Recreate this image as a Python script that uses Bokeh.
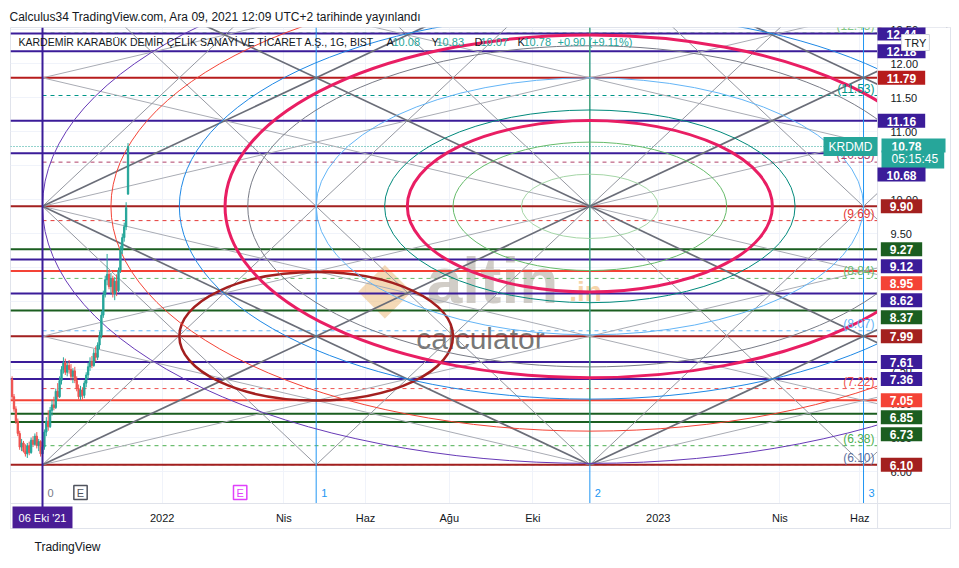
from bokeh.plotting import figure
from bokeh.models import Range1d, Label, Title, FixedTicker, NumeralTickFormatter
from bokeh.embed import file_html
from bokeh.resources import INLINE

FONT = "Liberation Sans"

# ---------------- data ----------------
CANDLE_BARS = list(range(-16, 46))  # bar index, 0 = 06 Eki '21
OPEN = [7.36, 7.10, 6.92, 6.74, 6.56, 6.36, 6.42, 6.30, 6.26, 6.38, 6.28, 6.46, 6.40, 6.52, 6.38, 6.44,
        6.26, 6.36, 6.58, 6.74, 6.66, 6.90, 6.98, 6.94, 7.18, 7.10, 7.34, 7.50, 7.60, 7.46, 7.56, 7.50,
        7.40, 7.48, 7.34, 7.22, 7.10, 7.20, 7.12, 7.30, 7.42, 7.54, 7.62, 7.56, 7.74, 7.68, 7.86, 8.00,
        8.30, 8.60, 8.82, 8.90, 8.72, 8.84, 8.62, 8.80, 8.66, 8.96, 9.26, 9.44, 9.60, 10.08]
HIGH = [7.40, 7.14, 6.96, 6.78, 6.60, 6.48, 6.45, 6.40, 6.42, 6.44, 6.50, 6.52, 6.56, 6.58, 6.48, 6.46,
        6.42, 6.62, 6.80, 6.90, 6.95, 7.05, 7.10, 7.22, 7.30, 7.40, 7.55, 7.68, 7.66, 7.62, 7.64, 7.58,
        7.52, 7.54, 7.40, 7.28, 7.26, 7.24, 7.34, 7.46, 7.60, 7.68, 7.70, 7.80, 7.84, 7.90, 8.06, 8.36,
        8.66, 8.88, 9.20, 8.96, 8.92, 8.88, 8.86, 8.90, 9.00, 9.32, 9.50, 9.66, 9.96, 10.83]
LOW = [7.06, 6.88, 6.70, 6.52, 6.32, 6.30, 6.28, 6.22, 6.20, 6.24, 6.26, 6.36, 6.38, 6.34, 6.30, 6.22,
       6.10, 6.32, 6.52, 6.60, 6.64, 6.82, 6.90, 6.92, 7.05, 7.08, 7.28, 7.44, 7.42, 7.40, 7.44, 7.34,
       7.30, 7.30, 7.18, 7.06, 7.05, 7.06, 7.08, 7.24, 7.36, 7.48, 7.52, 7.54, 7.62, 7.64, 7.80, 7.96,
       8.26, 8.56, 8.74, 8.68, 8.60, 8.56, 8.52, 8.58, 8.64, 8.92, 9.20, 9.38, 9.55, 10.07]
CLOSE = [7.10, 6.92, 6.74, 6.56, 6.36, 6.42, 6.30, 6.26, 6.38, 6.28, 6.46, 6.40, 6.52, 6.38, 6.44, 6.26,
         6.36, 6.58, 6.74, 6.66, 6.90, 6.98, 6.94, 7.18, 7.10, 7.34, 7.50, 7.60, 7.46, 7.56, 7.50, 7.40,
         7.48, 7.34, 7.22, 7.10, 7.20, 7.12, 7.30, 7.42, 7.54, 7.62, 7.56, 7.74, 7.68, 7.86, 8.00, 8.30,
         8.60, 8.82, 8.90, 8.72, 8.84, 8.62, 8.80, 8.66, 8.96, 9.26, 9.44, 9.60, 9.88, 10.78]

TIME_TICKS = [63, 127, 170, 214, 258, 324, 388, 430]
TIME_LABELS = ["2022", "Nis", "Haz", "Ağu", "Eki", "2023", "Nis", "Haz"]
ANCHOR_LABEL = "06 Eki '21"
PRICE_TICKS = [6.0, 6.5, 7.0, 7.5, 8.0, 8.5, 9.0, 9.5, 10.0, 10.5, 11.0, 11.5, 12.0, 12.5]

LEVELS = [12.44, 12.18, 11.79, 11.16, 10.68, 9.90, 9.27, 9.12, 8.95, 8.62, 8.37, 7.99,
          7.61, 7.36, 7.05, 6.85, 6.73, 6.10]
LEVEL_COLORS = ["#3b1c99", "#3b1c99", "#b71c1c", "#3b1c99", "#3b1c99", "#a3201f", "#1b5e20", "#3b1c99",
                "#f44336", "#3b1c99", "#1b5e20", "#a3201f", "#3b1c99", "#3b1c99", "#f44336", "#1b5e20",
                "#1b5e20", "#a3201f"]

FIB_LEVELS = [12.45, 11.53, 10.55, 9.69, 8.84, 8.07, 7.22, 6.38, 6.10]
FIB_COLORS = ["#81c784", "#009688", "#b0406a", "#e53935", "#66bb6a", "#64b5f6", "#ef5350", "#4caf50", "#5b6f9e"]

LAST_PRICE = 10.78
LAST_TIMER = "05:15:45"
SYMBOL = "KRDMD"
CURRENCY = "TRY"
NAME = "KARDEMİR KARABÜK DEMİR ÇELİK SANAYİ VE TİCARET A.Ş., 1G, BIST"
HEADER = "Calculus34 TradingView.com, Ara 09, 2021 12:09 UTC+2 tarihinde yayınlandı"

GANN_BARS = [0, 144, 288, 432, 576, 720]
GANN_LEVELS = [6.10, 7.99, 9.90, 11.79, 13.68]
CYCLE_LABELS = ["0", "1", "2", "3"]
CYCLE_COLORS = ["#787b86", "#2196f3", "#2196f3", "#2196f3"]

ARC_RATIOS = [0.25, 0.5, 0.667, 0.75, 1.0, 1.25, 1.333, 1.5, 1.75, 2.0]
ARC_COLORS = ["#a5d6a7", "#66bb6a", "#e91e63", "#00897b", "#64b5f6", "#787b86", "#e91e63",
              "#1e88e5", "#f44336", "#673ab7"]
ARC_WIDTHS = [1, 1, 3, 1, 1, 1, 3, 1, 1, 1]
SMALL_ARC_RATIO = 0.5

EARNINGS_BARS = [20, 104]
EARNINGS_COLORS = ["#50535e", "#e040fb"]

# ---------------- view ----------------
PX_PER_BAR = 1.9005
PPU = 68.0                       # px per price unit
X_START, X_END = -16.84, 439.4    # chart pane (bars)
Y_START, Y_END = 5.53, 12.53      # chart pane (price)
FRAME_W, FRAME_H = 940, 501       # pane + price scale + time scale
X_FRAME_END = X_START + FRAME_W / PX_PER_BAR
Y_FRAME_START = Y_END - FRAME_H / PPU

p = figure(frame_width=FRAME_W, frame_height=FRAME_H,
           x_range=Range1d(X_START, X_FRAME_END), y_range=Range1d(Y_FRAME_START, Y_END),
           y_axis_location="right", output_backend="svg", toolbar_location=None,
           min_border_left=10, min_border_right=7, min_border_top=27, min_border_bottom=38,
           background_fill_color="white", border_fill_color="white")
p.outline_line_color = "#e0e3eb"

p.title.text = HEADER
p.title.text_font = FONT
p.title.text_font_size = "12px"
p.title.text_font_style = "normal"
p.title.text_color = "#131722"
p.title.standoff = 7
p.title.offset = -1

p.add_layout(Title(text="TradingView", align="left", text_font=FONT, text_font_size="12px",
                   text_font_style="normal", text_color="#131722", standoff=18, offset=24), "below")

# price scale (labels drawn inside the scale strip)
p.yaxis.ticker = FixedTicker(ticks=PRICE_TICKS)
p.yaxis.formatter = NumeralTickFormatter(format="0.00")
p.yaxis.major_label_text_font = FONT
p.yaxis.major_label_text_font_size = "11px"
p.yaxis.major_label_text_color = "#131722"
p.yaxis.major_tick_line_color = None
p.yaxis.minor_tick_line_color = None
p.yaxis.major_label_standoff = -66
p.yaxis.axis_line_color = "#e0e3eb"

# time scale
p.xaxis.ticker = FixedTicker(ticks=TIME_TICKS)
p.xaxis.major_label_overrides = {t: l for t, l in zip(TIME_TICKS, TIME_LABELS)}
p.xaxis.major_label_text_font = FONT
p.xaxis.major_label_text_font_size = "11px"
p.xaxis.major_label_text_color = "#131722"
p.xaxis.major_tick_line_color = None
p.xaxis.minor_tick_line_color = None
p.xaxis.major_label_standoff = -23
p.xaxis.axis_line_color = "#e0e3eb"

p.xgrid.ticker = FixedTicker(ticks=TIME_TICKS)
p.xgrid.grid_line_color = "#f0f3fa"
p.ygrid.grid_line_color = "#f0f3fa"

# ---------------- watermark ----------------
for txt, x, y, size, color, alpha, style in [
    ("◆", 374, 243, "70px", "#edbf85", 0.6, "normal"),
    ("altin", 482, 248, "64px", "#b3aca2", 0.6, "bold"),
    (".in", 575, 237, "28px", "#f0b970", 0.6, "bold"),
    ("calculator", 470, 190, "30px", "#5f5f5f", 0.85, "normal"),
]:
    p.add_layout(Label(x=x, y=y, x_units="screen", y_units="screen", text=txt, text_align="center",
                       text_baseline="middle", text_font=FONT, text_font_size=size, text_color=color,
                       text_alpha=alpha, text_font_style=style, level="underlay"))

# ---------------- horizontal levels ----------------
for lv, c in zip(FIB_LEVELS, FIB_COLORS):
    p.segment(x0=GANN_BARS[0], y0=lv, x1=X_END, y1=lv, line_color=c, line_width=1, line_dash="4 4")
for lv, c in zip(LEVELS, LEVEL_COLORS):
    p.segment(x0=X_START, y0=lv, x1=X_END, y1=lv, line_color=c, line_width=2)
p.segment(x0=X_START, y0=LAST_PRICE, x1=X_END, y1=LAST_PRICE, line_color="#26a69a", line_width=1,
          line_dash="1 2")

# ---------------- vertical cycle lines ----------------
for b in GANN_BARS[1:4]:
    p.segment(x0=b, y0=Y_START, x1=b, y1=Y_END, line_color="#2196f3", line_width=1)
p.segment(x0=GANN_BARS[2], y0=GANN_LEVELS[0], x1=GANN_BARS[2], y1=Y_END, line_color="#43a047", line_width=1)

# ---------------- gann square lines ----------------
# a: 1x1 diagonals, b: 2x1 fan lines, c: 1x2 fan lines
styles = {"a": ("#6a6d78", 1.7), "b": ("#9598a1", 1.0), "c": ("#a9acb4", 1.0)}
seg = {k: ([], [], [], []) for k in styles}
for ci in range(len(GANN_BARS)):
    for ri in range(len(GANN_LEVELS)):
        moves = []
        if (ci + ri) % 2 == 0:
            moves += [(1, 1, "a"), (1, -1, "a")]
        if ri % 2 == 0:
            moves += [(1, 2, "b"), (1, -2, "b")]
        if ci % 2 == 0:
            moves += [(2, 1, "c"), (2, -1, "c")]
        for dc, dr, st in moves:
            cj, rj = ci + dc, ri + dr
            if cj < len(GANN_BARS) and 0 <= rj < len(GANN_LEVELS):
                s = seg[st]
                s[0].append(GANN_BARS[ci]); s[1].append(GANN_LEVELS[ri])
                s[2].append(GANN_BARS[cj]); s[3].append(GANN_LEVELS[rj])
for st in ["c", "b", "a"]:
    x0, y0, x1, y1 = seg[st]
    p.segment(x0=x0, y0=y0, x1=x1, y1=y1, line_color=styles[st][0], line_width=styles[st][1])

# ---------------- ellipses ----------------
col_w = GANN_BARS[1] - GANN_BARS[0]
row_h = GANN_LEVELS[1] - GANN_LEVELS[0]
p.ellipse(x=GANN_BARS[1], y=GANN_LEVELS[1], width=2 * SMALL_ARC_RATIO * col_w, height=2 * SMALL_ARC_RATIO * row_h,
          fill_alpha=0, line_color="#a31f1f", line_width=2.5)
for k, c, w in zip(ARC_RATIOS, ARC_COLORS, ARC_WIDTHS):
    p.ellipse(x=GANN_BARS[2], y=GANN_LEVELS[2], width=2 * k * col_w, height=2 * k * row_h,
              fill_alpha=0, line_color=c, line_width=w)

# ---------------- candles ----------------
cols = ["#26a69a" if c >= o else "#ef5350" for o, c in zip(OPEN, CLOSE)]
p.segment(x0=CANDLE_BARS, y0=LOW, x1=CANDLE_BARS, y1=HIGH, line_color=cols, line_width=1)
p.vbar(x=CANDLE_BARS, width=0.7, top=[max(o, c) for o, c in zip(OPEN, CLOSE)],
       bottom=[min(o, c) for o, c in zip(OPEN, CLOSE)], fill_color=cols, line_color=cols)

# ---------------- scale strips (cover the drawing outside the pane) ----------------
p.quad(left=X_END, right=X_FRAME_END, bottom=Y_FRAME_START, top=Y_END, fill_color="white", line_color=None)
p.quad(left=X_START, right=X_FRAME_END, bottom=Y_FRAME_START, top=Y_START, fill_color="white", line_color=None)
p.segment(x0=X_END, y0=Y_FRAME_START, x1=X_END, y1=Y_END, line_color="#e0e3eb", line_width=1)
p.segment(x0=X_START, y0=Y_START, x1=X_FRAME_END, y1=Y_START, line_color="#e0e3eb", line_width=1)
p.segment(x0=GANN_BARS[0], y0=Y_FRAME_START, x1=GANN_BARS[0], y1=Y_END, line_color="#3b1c99", line_width=2)

# ---------------- labels ----------------
def lab(**kw):
    base = dict(text_font=FONT, text_font_size="12px")
    base.update(kw)
    p.add_layout(Label(**base))

# legend
lab(x=8, y=487, x_units="screen", y_units="screen", text=NAME, text_font_size="10.5px",
    text_color="#131722", text_baseline="middle")
chg = CLOSE[-1] - CLOSE[-2]
pct = chg / CLOSE[-2] * 100
pieces = [("A", 376, "#131722"), (f"{OPEN[-1]:.2f}", 382, "#26a69a"), ("Y", 421, "#131722"),
          (f"{HIGH[-1]:.2f}", 426, "#26a69a"), ("D", 464, "#131722"), (f"{LOW[-1]:.2f}", 470, "#26a69a"),
          ("K", 507, "#131722"), (f"{CLOSE[-1]:.2f}", 513, "#26a69a"),
          (f"+{chg:.2f} (+{pct:.2f}%)", 547, "#26a69a")]
for t, x, c in pieces:
    lab(x=x, y=487, x_units="screen", y_units="screen", text=t, text_font_size="11px",
        text_color=c, text_baseline="middle")

# fib labels
for lv, c in zip(FIB_LEVELS, FIB_COLORS):
    lab(x=864, y=lv, x_units="screen", text=f"({lv:.2f})", text_align="right",
        text_baseline="bottom", text_color=c)

# symbol tag
lab(x=867, y=LAST_PRICE, x_units="screen", text=SYMBOL, text_align="right", text_baseline="middle",
    text_color="white", background_fill_color="#26a69a", padding=dict(left=5, right=5, top=3, bottom=2))

# price-scale boxes with de-overlap
items = [(lv, c, 17) for lv, c in zip(LEVELS, LEVEL_COLORS)] + [(LAST_PRICE, "last", 28)]
items.sort(key=lambda it: -it[0])
prev_bottom = -1e9
for lv, c, h in items:
    ytop = max((Y_END - lv) * PPU - 8.5, prev_bottom)
    prev_bottom = ytop + h
    if c == "last":
        lab(x=871, y=lv, x_units="screen", y_offset=1, text=f"{lv:.2f}", text_align="left",
            text_baseline="middle", text_color="white", text_font_style="bold", background_fill_color="#26a69a",
            padding=dict(left=10, right=24, top=3, bottom=2))
        lab(x=871, y=lv, x_units="screen", y_offset=-13, text=LAST_TIMER, text_align="left",
            text_baseline="middle", text_color="white", background_fill_color="#26a69a",
            padding=dict(left=10, right=6, top=1, bottom=3))
    else:
        yc = Y_END - (ytop + 8.5) / PPU
        lab(x=891, y=yc, x_units="screen", text=f"{lv:.2f}", text_align="center", text_baseline="middle",
            text_color="white", text_font_style="bold", background_fill_color=c,
            padding=dict(left=9, right=9, top=3, bottom=2))

lab(x=905, y=486, x_units="screen", y_units="screen", text=CURRENCY, text_align="center",
    text_baseline="middle", text_font_size="11px", text_color="#131722", background_fill_color="white",
    border_line_color="#d1d4dc", padding=dict(left=3, right=3, top=2, bottom=2))

# cycle numbers and earnings
for b, t, c in zip(GANN_BARS, CYCLE_LABELS, CYCLE_COLORS):
    lab(x=b, y=36, y_units="screen", x_offset=5, text=t, text_font_size="11px", text_color=c,
        text_baseline="middle")
for b, c in zip(EARNINGS_BARS, EARNINGS_COLORS):
    lab(x=b, y=36, y_units="screen", text="E", text_align="center", text_baseline="middle",
        text_font_size="11px", text_color=c, background_fill_color="white", border_line_color=c,
        border_line_width=1.5, padding=dict(left=3, right=3, top=1, bottom=1))

# anchor date on time scale
lab(x=GANN_BARS[0], y=11, y_units="screen", text=ANCHOR_LABEL, text_align="center", text_baseline="middle",
    text_color="white", text_font_size="11px", background_fill_color="#4a1d96",
    padding=dict(left=6, right=6, top=5, bottom=5))

open("out.html", "w").write(file_html(p, INLINE))
